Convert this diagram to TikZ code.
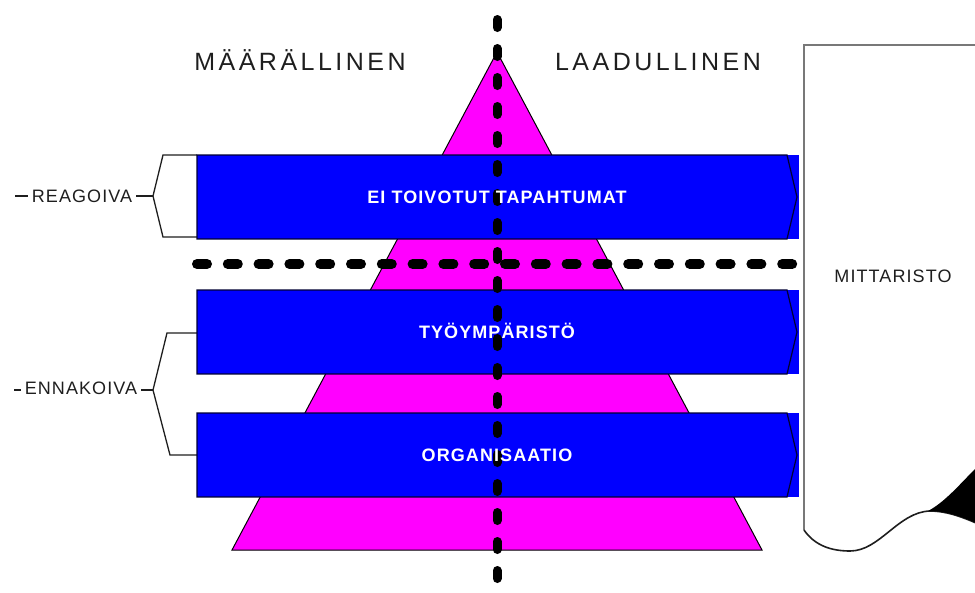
\documentclass[tikz,border=0pt]{standalone}
\usepackage{fontspec}
\setmainfont{Liberation Sans}
\newfontfamily\headfont[LetterSpace=14]{Liberation Sans}
\newfontfamily\smallfont[LetterSpace=6]{Liberation Sans}
\definecolor{bandblue}{RGB}{0,0,255}
\definecolor{pyrpink}{RGB}{255,0,255}
\definecolor{docgrey}{RGB}{120,120,120}
\definecolor{inkgrey}{RGB}{30,30,30}
\begin{document}
\begin{tikzpicture}[x=1pt,y=-1pt,
   heading/.style={font=\headfont\fontsize{25}{29}\selectfont,text=inkgrey,anchor=base,inner sep=0pt},
   bandtext/.style={font=\smallfont\bfseries\fontsize{18}{21}\selectfont,text=white,anchor=base,inner sep=0pt},
   sidelabel/.style={font=\smallfont\fontsize{18}{21}\selectfont,text=inkgrey,anchor=base,inner sep=0pt},
   bracket/.style={draw=inkgrey,line width=1.3pt}]
   \clip (0,0) rectangle (975,592);

   % pyramid
   \coordinate (apex) at (497,52);
   \coordinate (baseL) at (232,550);
   \coordinate (baseR) at (762,550);
   \draw[fill=pyrpink,line width=1pt] (apex) -- (baseR) -- (baseL) -- cycle;

   % dividing line
   \coordinate (hl) at (197,264);
   \coordinate (hr) at (793,264);
   \draw[line width=10pt,dash pattern=on 10pt off 20.8pt,line cap=round] (hl) -- (hr);

   % brackets
   \draw[bracket,fill=white] (197,155) -- (163,155) -- (153,196) coordinate(reagtip) -- (163,237) -- (197,237);
   \draw[bracket] (197,333) -- (167,333) -- (153,390) coordinate(ennatip) -- (170,455) -- (197,455);

   % bands
   \foreach \t/\nm in {155/tapahtumat, 290/ymparisto, 413/organisaatio}{
      \fill[bandblue] (197,\t) rectangle (799,\t+84);
      \draw[draw=black!80!blue,line width=1.2pt] (197,\t) -- (787,\t) -- (797,\t+42) -- (787,\t+84) -- (197,\t+84) -- cycle;
      \coordinate (\nm) at (497,\t+48.5);
   }

   % centre line
   \coordinate (vtop) at (497,19.5);
   \coordinate (vbot) at (497,600);
   \draw[line width=9pt,dash pattern=on 8pt off 21pt,line cap=round] (vtop) -- (vbot);

   \node[bandtext] at (tapahtumat) {EI TOIVOTUT TAPAHTUMAT};
   \node[bandtext] at (ymparisto) {TYÖYMPÄRISTÖ};
   \node[bandtext] at (organisaatio) {ORGANISAATIO};

   % headings
   \node[heading] (maara) at (300,70) {MÄÄRÄLLINEN};
   \node[heading] (laatu) at (658,70) {LAADULLINEN};

   % side labels
   \node[sidelabel,inner xsep=4pt] (reag) at (82,202) {REAGOIVA};
   \draw[bracket] (reag.east |- reagtip) -- (reagtip);
   \draw[bracket] (reag.west |- reagtip) -- ++(-13,0);
   \node[sidelabel,inner xsep=4pt] (enna) at (81,394) {ENNAKOIVA};
   \draw[bracket] (enna.east |- ennatip) -- (ennatip);
   \draw[bracket] (enna.west |- ennatip) -- ++(-7,0);

   % document
   \draw[docgrey,line width=2pt,fill=white] (976,45) -- (804,45) -- (804,530);
   \draw[inkgrey,line width=1.6pt] (804,530) .. controls (815,546) and (832,551) .. (850,551)
      .. controls (880,551) and (898,512) .. (930,511) .. controls (945,511) and (960,516) .. (976,523);
   \fill[black] (928,511) .. controls (945,502) and (960,484) .. (976,468) -- (976,523)
      .. controls (960,516) and (945,511) .. (928,511) -- cycle;
   \node[sidelabel] (mitt) at (893,282) {MITTARISTO};
\end{tikzpicture}
\end{document}
